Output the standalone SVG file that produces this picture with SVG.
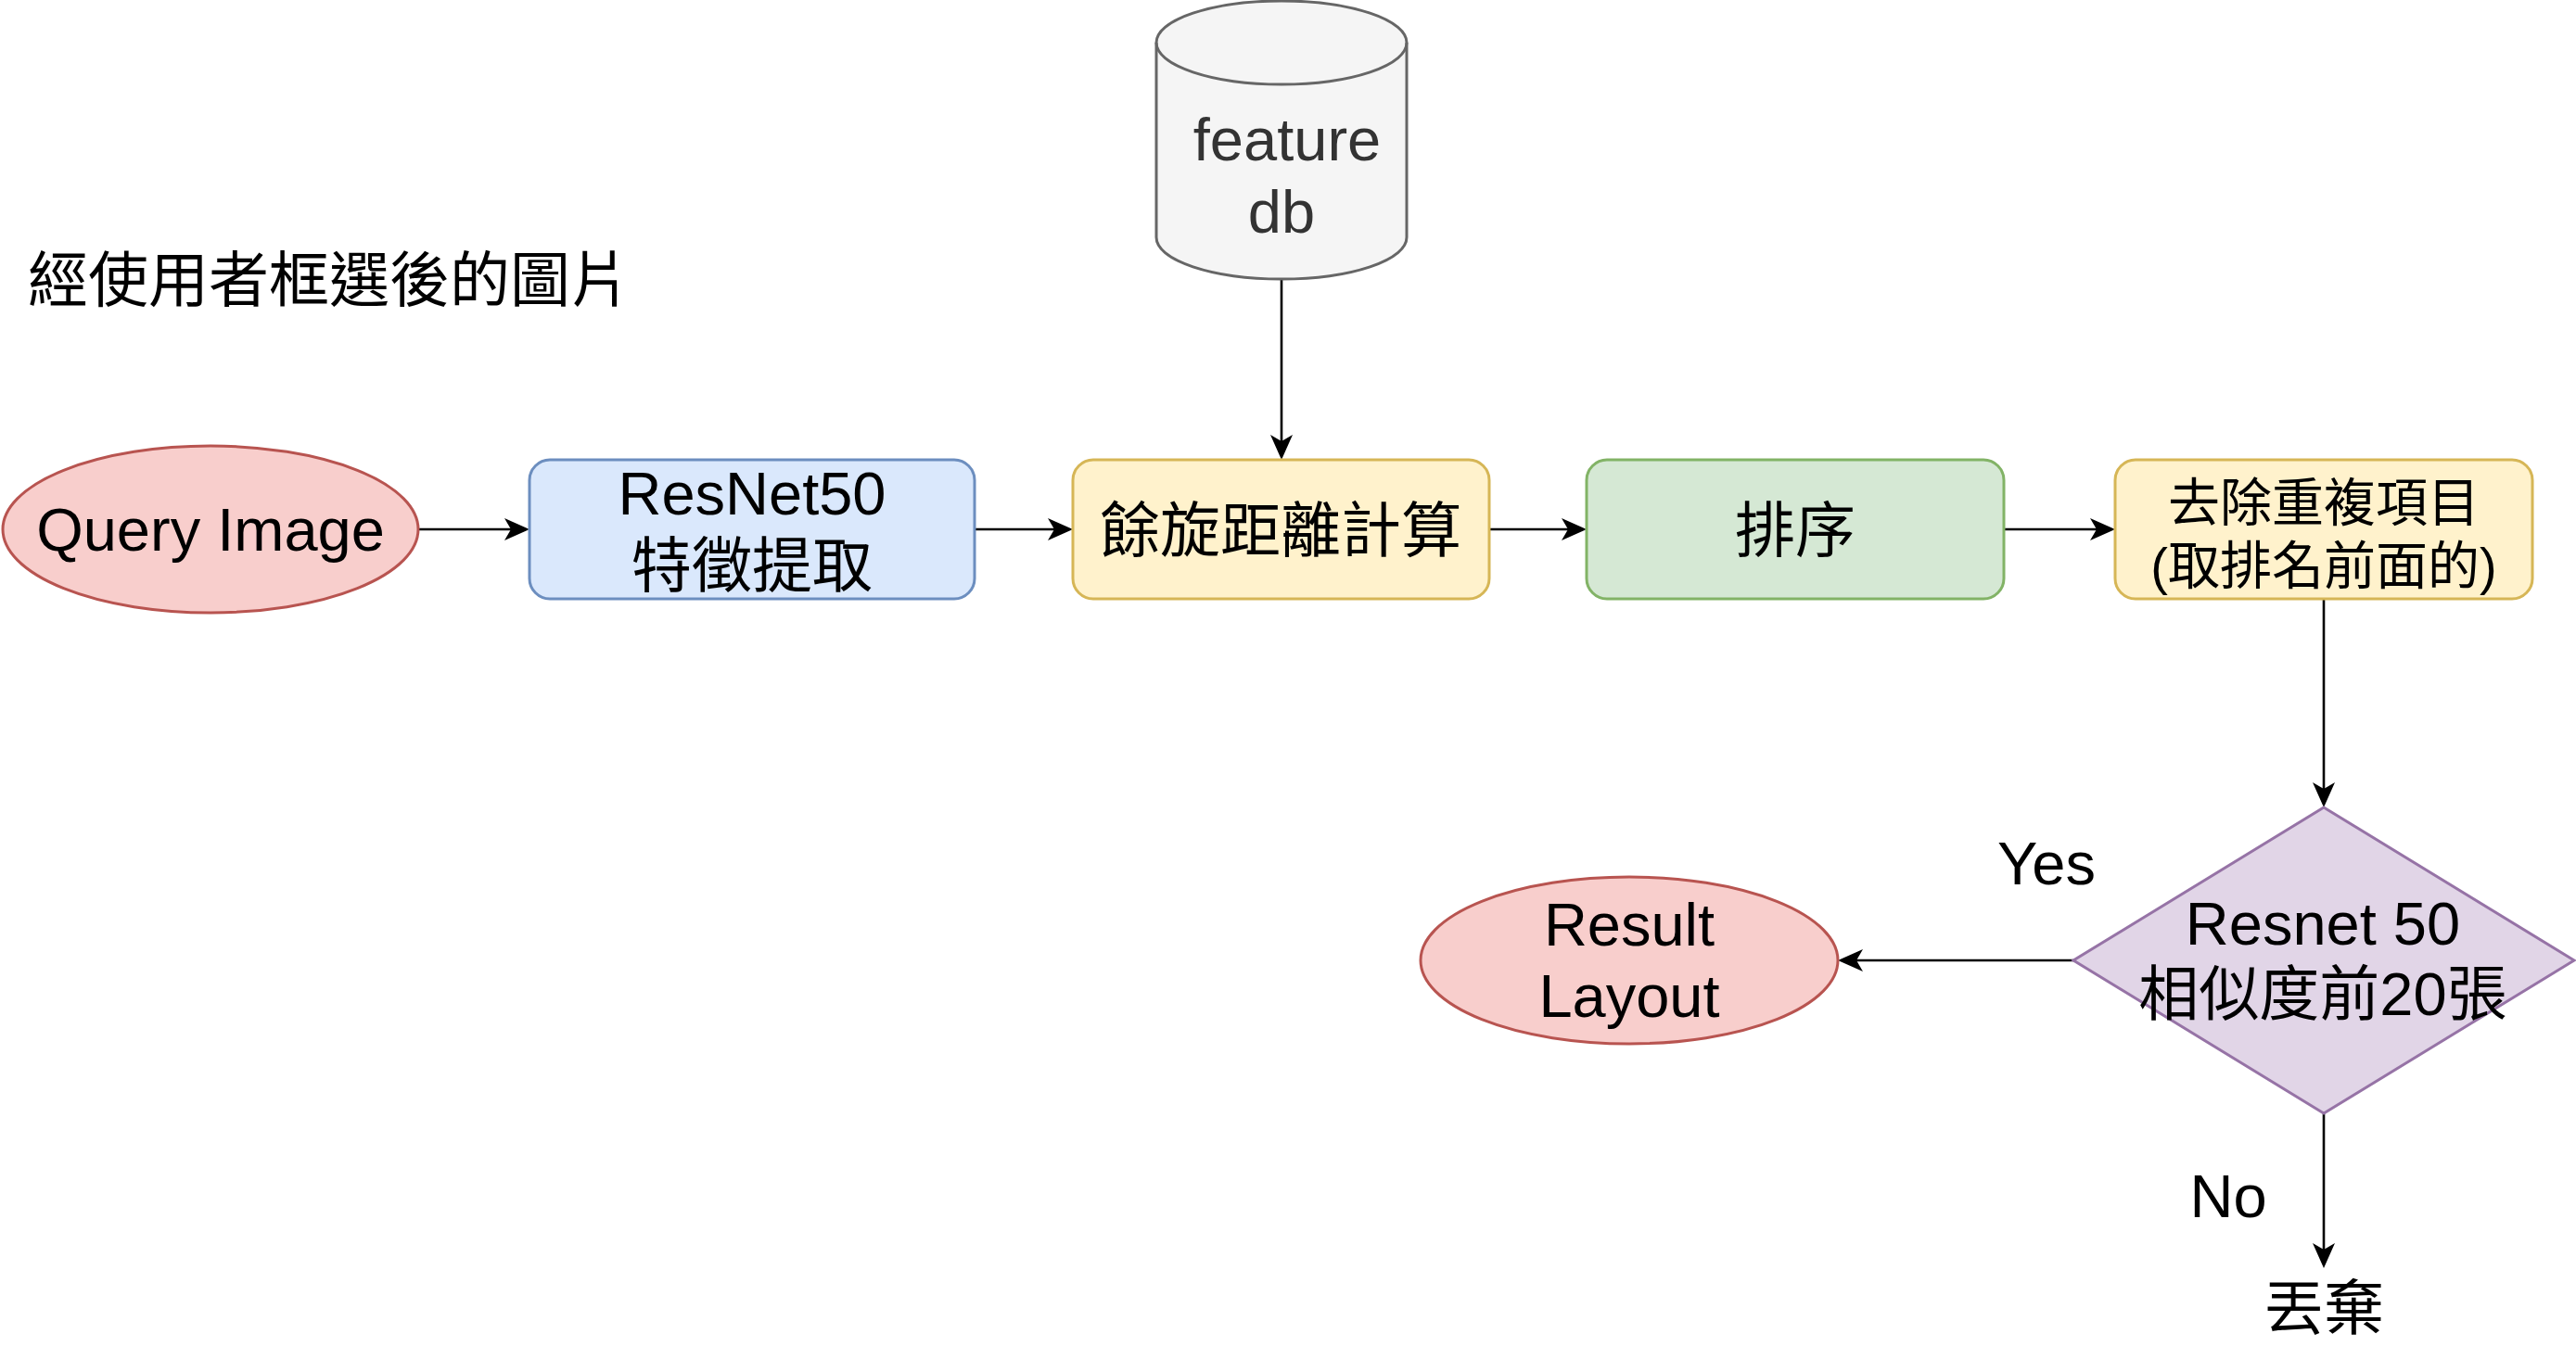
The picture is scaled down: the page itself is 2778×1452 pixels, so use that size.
<svg xmlns="http://www.w3.org/2000/svg" width="2778" height="1452" viewBox="0 0 2778 1452">
<style>
  .t { font-family: "Liberation Sans", "Noto Sans CJK TC", sans-serif; font-size: 65px; fill: #000; text-anchor: middle; }
  .s { font-size: 56px; }
  .edge { stroke: #000; stroke-width: 2.6; fill: none; marker-end: url(#arr); }
  .n { stroke-width: 3; }
</style>
<defs>
  <marker id="arr" markerUnits="userSpaceOnUse" markerWidth="32" markerHeight="28" viewBox="-29 -14 32 28" refX="-20" refY="0" orient="auto">
    <path d="M0,0 L-27,-12 L-20,0 L-27,12 Z" fill="#000"/>
  </marker>
</defs>
<rect width="2778" height="1452" fill="#fff"/>

<g id="title">
  <text class="t" x="30" y="325" style="text-anchor:start">經使用者框選後的圖片</text>
</g>

<g id="connectors">
  <line class="edge" x1="451" y1="571" x2="551" y2="571"/>
  <line class="edge" x1="1051" y1="571" x2="1137" y2="571"/>
  <line class="edge" x1="1382" y1="301" x2="1382" y2="476"/>
  <line class="edge" x1="1606" y1="571" x2="1691" y2="571"/>
  <line class="edge" x1="2161" y1="571" x2="2261" y2="571"/>
  <line class="edge" x1="2506" y1="646" x2="2506" y2="851"/>
  <line class="edge" x1="2236" y1="1036" x2="2002" y2="1036"/>
  <line class="edge" x1="2506" y1="1201" x2="2506" y2="1348"/>
</g>

<g id="query">
  <ellipse class="n" cx="227" cy="571" rx="224" ry="90" fill="#f8cecc" stroke="#b85450"/>
  <text class="t" x="227" y="594">Query Image</text>
</g>

<g id="resnet">
  <rect class="n" x="571" y="496" width="480" height="150" rx="22" fill="#dae8fc" stroke="#6c8ebf"/>
  <text class="t" x="811" y="555">ResNet50</text>
  <text class="t" x="811" y="633">特徵提取</text>
</g>

<g id="featuredb">
  <path class="n" d="M1247,46 A135,45 0 0 1 1517,46 L1517,256 A135,45 0 0 1 1247,256 Z" fill="#f5f5f5" stroke="#666666"/>
  <path class="n" d="M1247,46 A135,45 0 0 0 1517,46" fill="none" stroke="#666666"/>
  <text class="t" x="1388" y="173" style="fill:#333333">feature</text>
  <text class="t" x="1382" y="251" style="fill:#333333">db</text>
</g>

<g id="cosine">
  <rect class="n" x="1157" y="496" width="449" height="150" rx="22" fill="#fff2cc" stroke="#d6b656"/>
  <text class="t" x="1381" y="595">餘旋距離計算</text>
</g>

<g id="sort">
  <rect class="n" x="1711" y="496" width="450" height="150" rx="22" fill="#d5e8d4" stroke="#82b366"/>
  <text class="t" x="1936" y="595">排序</text>
</g>

<g id="dedup">
  <rect class="n" x="2281" y="496" width="450" height="150" rx="22" fill="#fff2cc" stroke="#d6b656"/>
  <text class="t s" x="2506" y="562">去除重複項目</text>
  <text class="t s" x="2506" y="630">(取排名前面的)</text>
</g>

<g id="decision">
  <path class="n" d="M2506,871 L2776,1036 L2506,1201 L2236,1036 Z" fill="#e1d5e7" stroke="#9673a6"/>
  <text class="t" x="2505" y="1019">Resnet 50</text>
  <text class="t" x="2505" y="1095">相似度前20張</text>
</g>

<g id="result">
  <ellipse class="n" cx="1757" cy="1036" rx="225" ry="90" fill="#f8cecc" stroke="#b85450"/>
  <text class="t" x="1757" y="1020">Result</text>
  <text class="t" x="1757" y="1097">Layout</text>
</g>

<g id="labels">
  <text class="t" x="2207" y="954">Yes</text>
  <text class="t" x="2403" y="1313">No</text>
</g>

<g id="discard">
  <text class="t" x="2506" y="1434">丟棄</text>
</g>
</svg>
